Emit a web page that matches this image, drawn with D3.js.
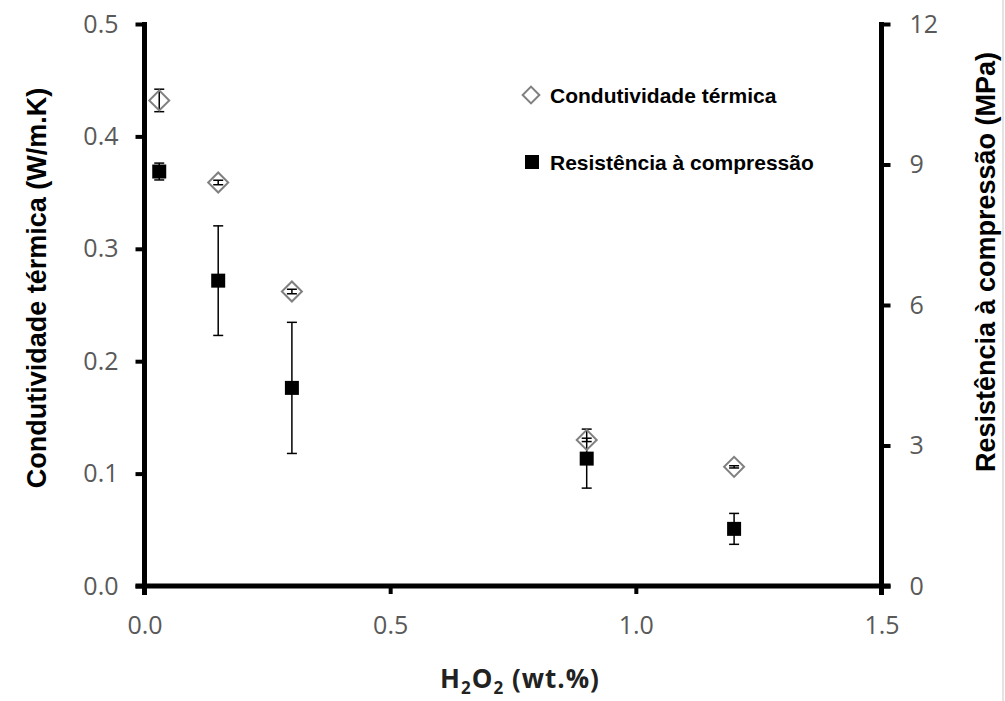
<!DOCTYPE html>
<html>
<head>
<meta charset="utf-8">
<script src="https://cdn.jsdelivr.net/npm/d3@7"></script>
<style>
  body { margin: 0; background: #fff; }
  svg { display: block; }
  .tick text { font-family: "Open Sans", Lato, sans-serif; font-size: 25px; fill: #595959; }
  .axis-title { font-family: "Liberation Sans", Arial, sans-serif; font-weight: bold; font-size: 27px; fill: #000; }
  .legend text { font-family: "Liberation Sans", Arial, sans-serif; font-weight: bold; font-size: 21px; fill: #000; }
</style>
</head>
<body>
<svg width="1005" height="701"></svg>
<script>
// H2O2 content (wt.%)
var h2o2 = [0.03, 0.15, 0.30, 0.90, 1.20];
// thermal conductivity (W/m.K) and its error
var conductivity = [0.432, 0.359, 0.262, 0.130, 0.106];
var conductivityErr = [0.010, 0.002, 0.002, 0.0015, 0.001];
// compressive strength (MPa) and its error
var strength = [8.85, 6.52, 4.23, 2.72, 1.22];
var strengthErr = [0.18, 1.17, 1.40, 0.63, 0.33];

var xTicks = [0, 0.5, 1.0, 1.5];
var yLeftTicks = [0, 0.1, 0.2, 0.3, 0.4, 0.5];
var yRightTicks = [0, 3, 6, 9, 12];
var legendLabels = ["Condutividade térmica", "Resistência à compressão"];

var svg = d3.select("svg");

var x = d3.scaleLinear().domain([0, 1.5]).range([144.5, 881.5]),
    yL = d3.scaleLinear().domain([0, 0.5]).range([586, 24]),
    yR = d3.scaleLinear().domain([0, 12]).range([586, 24]);

// faint border at the right edge of the picture
svg.append("line")
  .attr("x1", 1003).attr("x2", 1003).attr("y1", 0).attr("y2", 701)
  .attr("stroke", "#e4e4e4").attr("stroke-width", 2);

// axes
var gx = svg.append("g")
  .attr("transform", "translate(0," + yL(0) + ")")
  .call(d3.axisBottom(x).tickValues(xTicks).tickFormat(d3.format(".1f"))
    .tickSize(8).tickSizeOuter(0).tickPadding(22));

var gl = svg.append("g")
  .attr("transform", "translate(" + x(0) + ",0)")
  .call(d3.axisLeft(yL).tickValues(yLeftTicks).tickFormat(d3.format(".1f"))
    .tickSize(9).tickSizeOuter(0).tickPadding(17));

var gr = svg.append("g")
  .attr("transform", "translate(" + x(1.5) + ",0)")
  .call(d3.axisRight(yR).tickValues(yRightTicks).tickFormat(d3.format("d"))
    .tickSize(9).tickSizeOuter(0).tickPadding(19));

[gx, gl, gr].forEach(function(g) {
  g.select(".domain").remove();
  g.selectAll(".tick line").attr("stroke", "#000").attr("stroke-width", 4);
});

// thick axis lines
svg.append("line")
  .attr("x1", x(0) - 9).attr("x2", x(1.5) + 9)
  .attr("y1", yL(0)).attr("y2", yL(0))
  .attr("stroke", "#000").attr("stroke-width", 5);
svg.append("line")
  .attr("x1", x(0)).attr("x2", x(0))
  .attr("y1", yL(0.5) - 2).attr("y2", yL(0) + 9)
  .attr("stroke", "#000").attr("stroke-width", 5);
svg.append("line")
  .attr("x1", x(1.5)).attr("x2", x(1.5))
  .attr("y1", yR(12) - 2).attr("y2", yR(0) + 9)
  .attr("stroke", "#000").attr("stroke-width", 5);

// error bars
function errorBars(xs, ys, es, scale) {
  var g = svg.append("g").attr("stroke", "#000").attr("stroke-width", 1.5);
  xs.forEach(function(d, i) {
    var cx = x(d), top = scale(ys[i] + es[i]), bot = scale(ys[i] - es[i]);
    g.append("line").attr("x1", cx).attr("x2", cx).attr("y1", top).attr("y2", bot);
    g.append("line").attr("x1", cx - 5).attr("x2", cx + 5).attr("y1", top).attr("y2", top);
    g.append("line").attr("x1", cx - 5).attr("x2", cx + 5).attr("y1", bot).attr("y2", bot);
  });
}
errorBars(h2o2, strength, strengthErr, yR);
errorBars(h2o2, conductivity, conductivityErr, yL);

var square = d3.symbol().type(d3.symbolSquare);

svg.append("g").selectAll("path")
  .data(h2o2)
  .enter().append("path")
    .attr("d", square.size(196)())
    .attr("transform", function(d, i) { return "translate(" + x(d) + "," + yR(strength[i]) + ")"; })
    .attr("fill", "#000");

svg.append("g").selectAll("path")
  .data(h2o2)
  .enter().append("path")
    .attr("d", square.size(200)())
    .attr("transform", function(d, i) { return "translate(" + x(d) + "," + yL(conductivity[i]) + ") rotate(45)"; })
    .attr("fill", "none")
    .attr("stroke", "#808080")
    .attr("stroke-width", 2);

// legend
var legend = svg.append("g").attr("class", "legend");
legend.append("path")
  .attr("d", square.size(140)())
  .attr("transform", "translate(531,95) rotate(45)")
  .attr("fill", "none").attr("stroke", "#808080").attr("stroke-width", 2);
legend.append("path")
  .attr("d", square.size(196)())
  .attr("transform", "translate(532,162)")
  .attr("fill", "#000");
legend.selectAll("text")
  .data(legendLabels)
  .enter().append("text")
    .attr("x", 550)
    .attr("y", function(d, i) { return 103 + i * 67; })
    .text(function(d) { return d; });

// axis titles
svg.append("text")
  .attr("class", "axis-title")
  .attr("transform", "translate(46,288) rotate(-90)")
  .attr("text-anchor", "middle")
  .text("Condutividade térmica (W/m.K)");

svg.append("text")
  .attr("class", "axis-title")
  .attr("transform", "translate(995,262) rotate(-90)")
  .attr("text-anchor", "middle")
  .text("Resistência à compressão (MPa)");

var xt = svg.append("text")
  .attr("x", 520)
  .attr("y", 688)
  .attr("text-anchor", "middle")
  .style("font-family", "'Open Sans', Lato, sans-serif")
  .style("font-weight", "bold")
  .style("font-size", "26px")
  .style("letter-spacing", "1px")
  .style("fill", "#222");
xt.append("tspan").text("H");
xt.append("tspan").attr("dy", 6).style("font-size", "17px").text("2");
xt.append("tspan").attr("dy", -6).text("O");
xt.append("tspan").attr("dy", 6).style("font-size", "17px").text("2");
xt.append("tspan").attr("dy", -6).text(" (wt.%)");
</script>
</body>
</html>
